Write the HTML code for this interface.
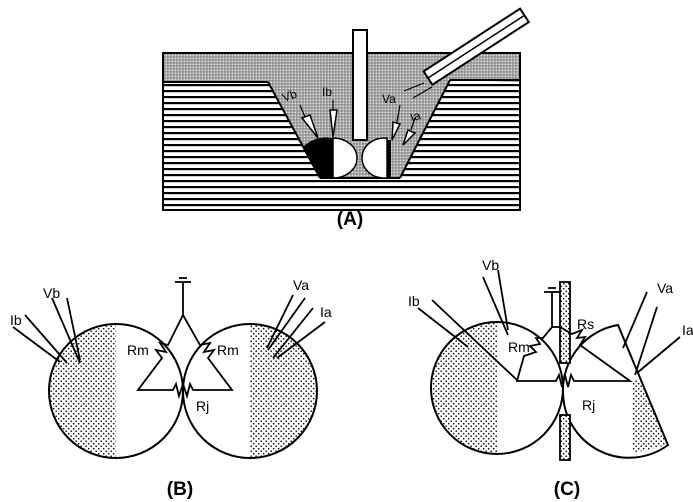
<!DOCTYPE html>
<html><head><meta charset="utf-8"><style>html,body{margin:0;padding:0;background:#fff}svg{display:block}</style></head><body>
<svg width="693" height="502" viewBox="0 0 693 502" xmlns="http://www.w3.org/2000/svg" font-family="Liberation Sans, Arial, sans-serif">
<defs>
<pattern id="dots" width="5" height="5" patternUnits="userSpaceOnUse"><rect width="5" height="5" fill="#fff"/><circle cx="1.2" cy="1.2" r="0.8" fill="#000"/><circle cx="3.7" cy="3.7" r="0.8" fill="#000"/></pattern>
<pattern id="grid" width="3" height="3" patternUnits="userSpaceOnUse"><rect width="3" height="3" fill="#888"/><rect x="0.5" y="0.5" width="1.8" height="1.8" fill="#e4e4e4"/></pattern>
<pattern id="stripes" width="6" height="6" patternUnits="userSpaceOnUse"><rect width="6" height="6" fill="#fff"/><rect y="0" width="6" height="2.2" fill="#000"/></pattern>
<clipPath id="cB1"><circle cx="116" cy="391" r="67"/></clipPath>
<clipPath id="cB2"><circle cx="250" cy="391" r="67"/></clipPath>
<clipPath id="cC1"><circle cx="497" cy="388" r="66"/></clipPath>
<clipPath id="cC2"><polygon points="560,300 618,325 668,445 560,470"/></clipPath>
<clipPath id="trench"><polygon points="268,82 450,80 400,178 320,178"/></clipPath>
</defs>
<g stroke="#000" stroke-width="2" fill="none">
<!-- Panel A -->
<rect x="163" y="53" width="357" height="157" fill="url(#stripes)"/>
<polygon points="163,53 520,53 520,82 450,80 400,178 320,178 268,82 163,82" fill="url(#grid)" stroke="none"/>
<line x1="163" y1="82" x2="268" y2="82"/><line x1="268" y1="82" x2="320" y2="178"/><line x1="450" y1="80" x2="400" y2="178"/><line x1="450" y1="80" x2="520" y2="80"/>
<rect x="163" y="53" width="357" height="157"/>
<line x1="320" y1="178" x2="400" y2="178"/>
<g clip-path="url(#trench)">
<path d="M333,138 A34,34 0 0 0 300,150 L318,182 L333,182 Z" fill="#000" stroke="none"/>
<path d="M333,138 A24,20 0 0 1 333,178 Z" fill="#fff" stroke-width="1.5"/>
<path d="M387,138 L387,178 L384,178 A22,20 0 0 1 384,138 Z" fill="#fff" stroke-width="1.5"/>
<rect x="387" y="140" width="4" height="38" fill="#000" stroke="none"/>
</g>
<rect x="353" y="30" width="14" height="110" fill="#fff"/>
<g transform="translate(428,78) rotate(-33)"><rect x="0" y="-8" width="115" height="16" fill="#fff"/><line x1="0" y1="0" x2="115" y2="0" stroke-width="1.5"/></g>
<polygon points="302,118 310,115 318,138" fill="#fff" stroke-width="1.5"/>
<polygon points="330,110 337,110 333,137" fill="#fff" stroke-width="1.5"/>
<polygon points="393,122 400,124 392,140" fill="#fff" stroke-width="1.5"/>
<polygon points="408,130 415,133 403,145" fill="#fff" stroke-width="1.5"/>
<line x1="300" y1="105" x2="305" y2="117" stroke-width="1.2"/><line x1="333" y1="100" x2="333" y2="110" stroke-width="1.2"/>
<line x1="400" y1="105" x2="397" y2="122" stroke-width="1.2"/><line x1="415" y1="118" x2="411" y2="130" stroke-width="1.2"/>
<line x1="424" y1="83" x2="404" y2="91" stroke-width="1.2"/><line x1="432" y1="87" x2="413" y2="98" stroke-width="1.2"/>
<!-- Panel B -->
<g clip-path="url(#cB1)"><rect x="40" y="320" width="76" height="140" fill="url(#dots)" stroke="none"/></g>
<g clip-path="url(#cB2)"><rect x="250" y="320" width="76" height="140" fill="url(#dots)" stroke="none"/></g>
<circle cx="116" cy="391" r="67"/><circle cx="250" cy="391" r="67"/>
<g stroke-width="1.8">
<line x1="183" y1="282" x2="183" y2="315"/><line x1="175" y1="282" x2="191" y2="282"/><line x1="179" y1="278" x2="187" y2="278"/>
<polyline points="183,315 168,345 160,343 166,352 156,350 162,358 138,390 173,390 176,384 179,396 183,384 187,396 190,384 193,390 232,390 208,358 214,350 204,352 210,343 200,345 183,315"/>
<line x1="25" y1="315" x2="67" y2="363"/><line x1="13" y1="327" x2="60" y2="362"/>
<line x1="52" y1="298" x2="80" y2="363"/><line x1="67" y1="298" x2="80" y2="360"/>
<line x1="293" y1="295" x2="267" y2="348"/><line x1="305" y1="298" x2="268" y2="350"/>
<line x1="313" y1="308" x2="273" y2="358"/><line x1="325" y1="322" x2="277" y2="358"/>
</g>
<!-- Panel C -->
<g clip-path="url(#cC1)"><rect x="420" y="315" width="78" height="150" fill="url(#dots)" stroke="none"/></g>
<g clip-path="url(#cC2)"><circle cx="629" cy="388" r="66" fill="#fff" stroke="none"/><rect x="632" y="380" width="50" height="80" fill="url(#dots)" stroke="none"/></g>
<circle cx="497" cy="388" r="66"/>
<path d="M618,325 A66,66 0 0 0 563,392 A66,66 0 0 0 668,445 Z" fill="none"/>
<g stroke-width="1.8">
<rect x="560" y="282" width="10" height="81" fill="url(#dots)"/>
<rect x="560" y="415" width="10" height="45" fill="url(#dots)"/>
<line x1="552" y1="292" x2="552" y2="327"/><line x1="544" y1="292" x2="560" y2="292"/><line x1="548" y1="288" x2="556" y2="288"/>
<polyline points="552,327 543,338 536,338 540,344 530,346 536,352 524,356 517,381 556,381 559,375 562,387 565,375 568,387 571,375 574,381 630,381 580,345 585,337 577,338 582,330 572,334 560,327 552,327"/>
<line x1="432" y1="300" x2="517" y2="380"/><line x1="418" y1="308" x2="468" y2="347"/>
<line x1="483" y1="277" x2="508" y2="335"/><line x1="498" y1="270" x2="508" y2="330"/>
<line x1="647" y1="292" x2="623" y2="348"/><line x1="657" y1="307" x2="635" y2="375"/>
<line x1="680" y1="337" x2="637" y2="373"/>
</g>
</g>
<g font-size="14" fill="#000">
<text x="284" y="102" transform="rotate(-20 284 102)" font-size="12">Vb</text>
<text x="322" y="96" font-size="12">Ib</text>
<text x="382" y="103" font-size="12">Va</text>
<text x="412" y="122" transform="rotate(-20 412 122)" font-size="12">Ia</text>
<text x="350" y="225" font-size="19" font-weight="bold" text-anchor="middle">(A)</text>
<text x="10" y="325">Ib</text><text x="43" y="298">Vb</text>
<text x="127" y="355">Rm</text><text x="217" y="355">Rm</text><text x="196" y="411">Rj</text>
<text x="293" y="290">Va</text><text x="320" y="317">Ia</text>
<text x="180" y="495" font-size="19" font-weight="bold" text-anchor="middle">(B)</text>
<text x="408" y="306">Ib</text><text x="482" y="270">Vb</text>
<text x="508" y="352">Rm</text><text x="577" y="329">Rs</text><text x="582" y="410">Rj</text>
<text x="657" y="293">Va</text><text x="682" y="335">Ia</text>
<text x="567" y="495" font-size="19" font-weight="bold" text-anchor="middle">(C)</text>
</g>
</svg>
</body></html>
